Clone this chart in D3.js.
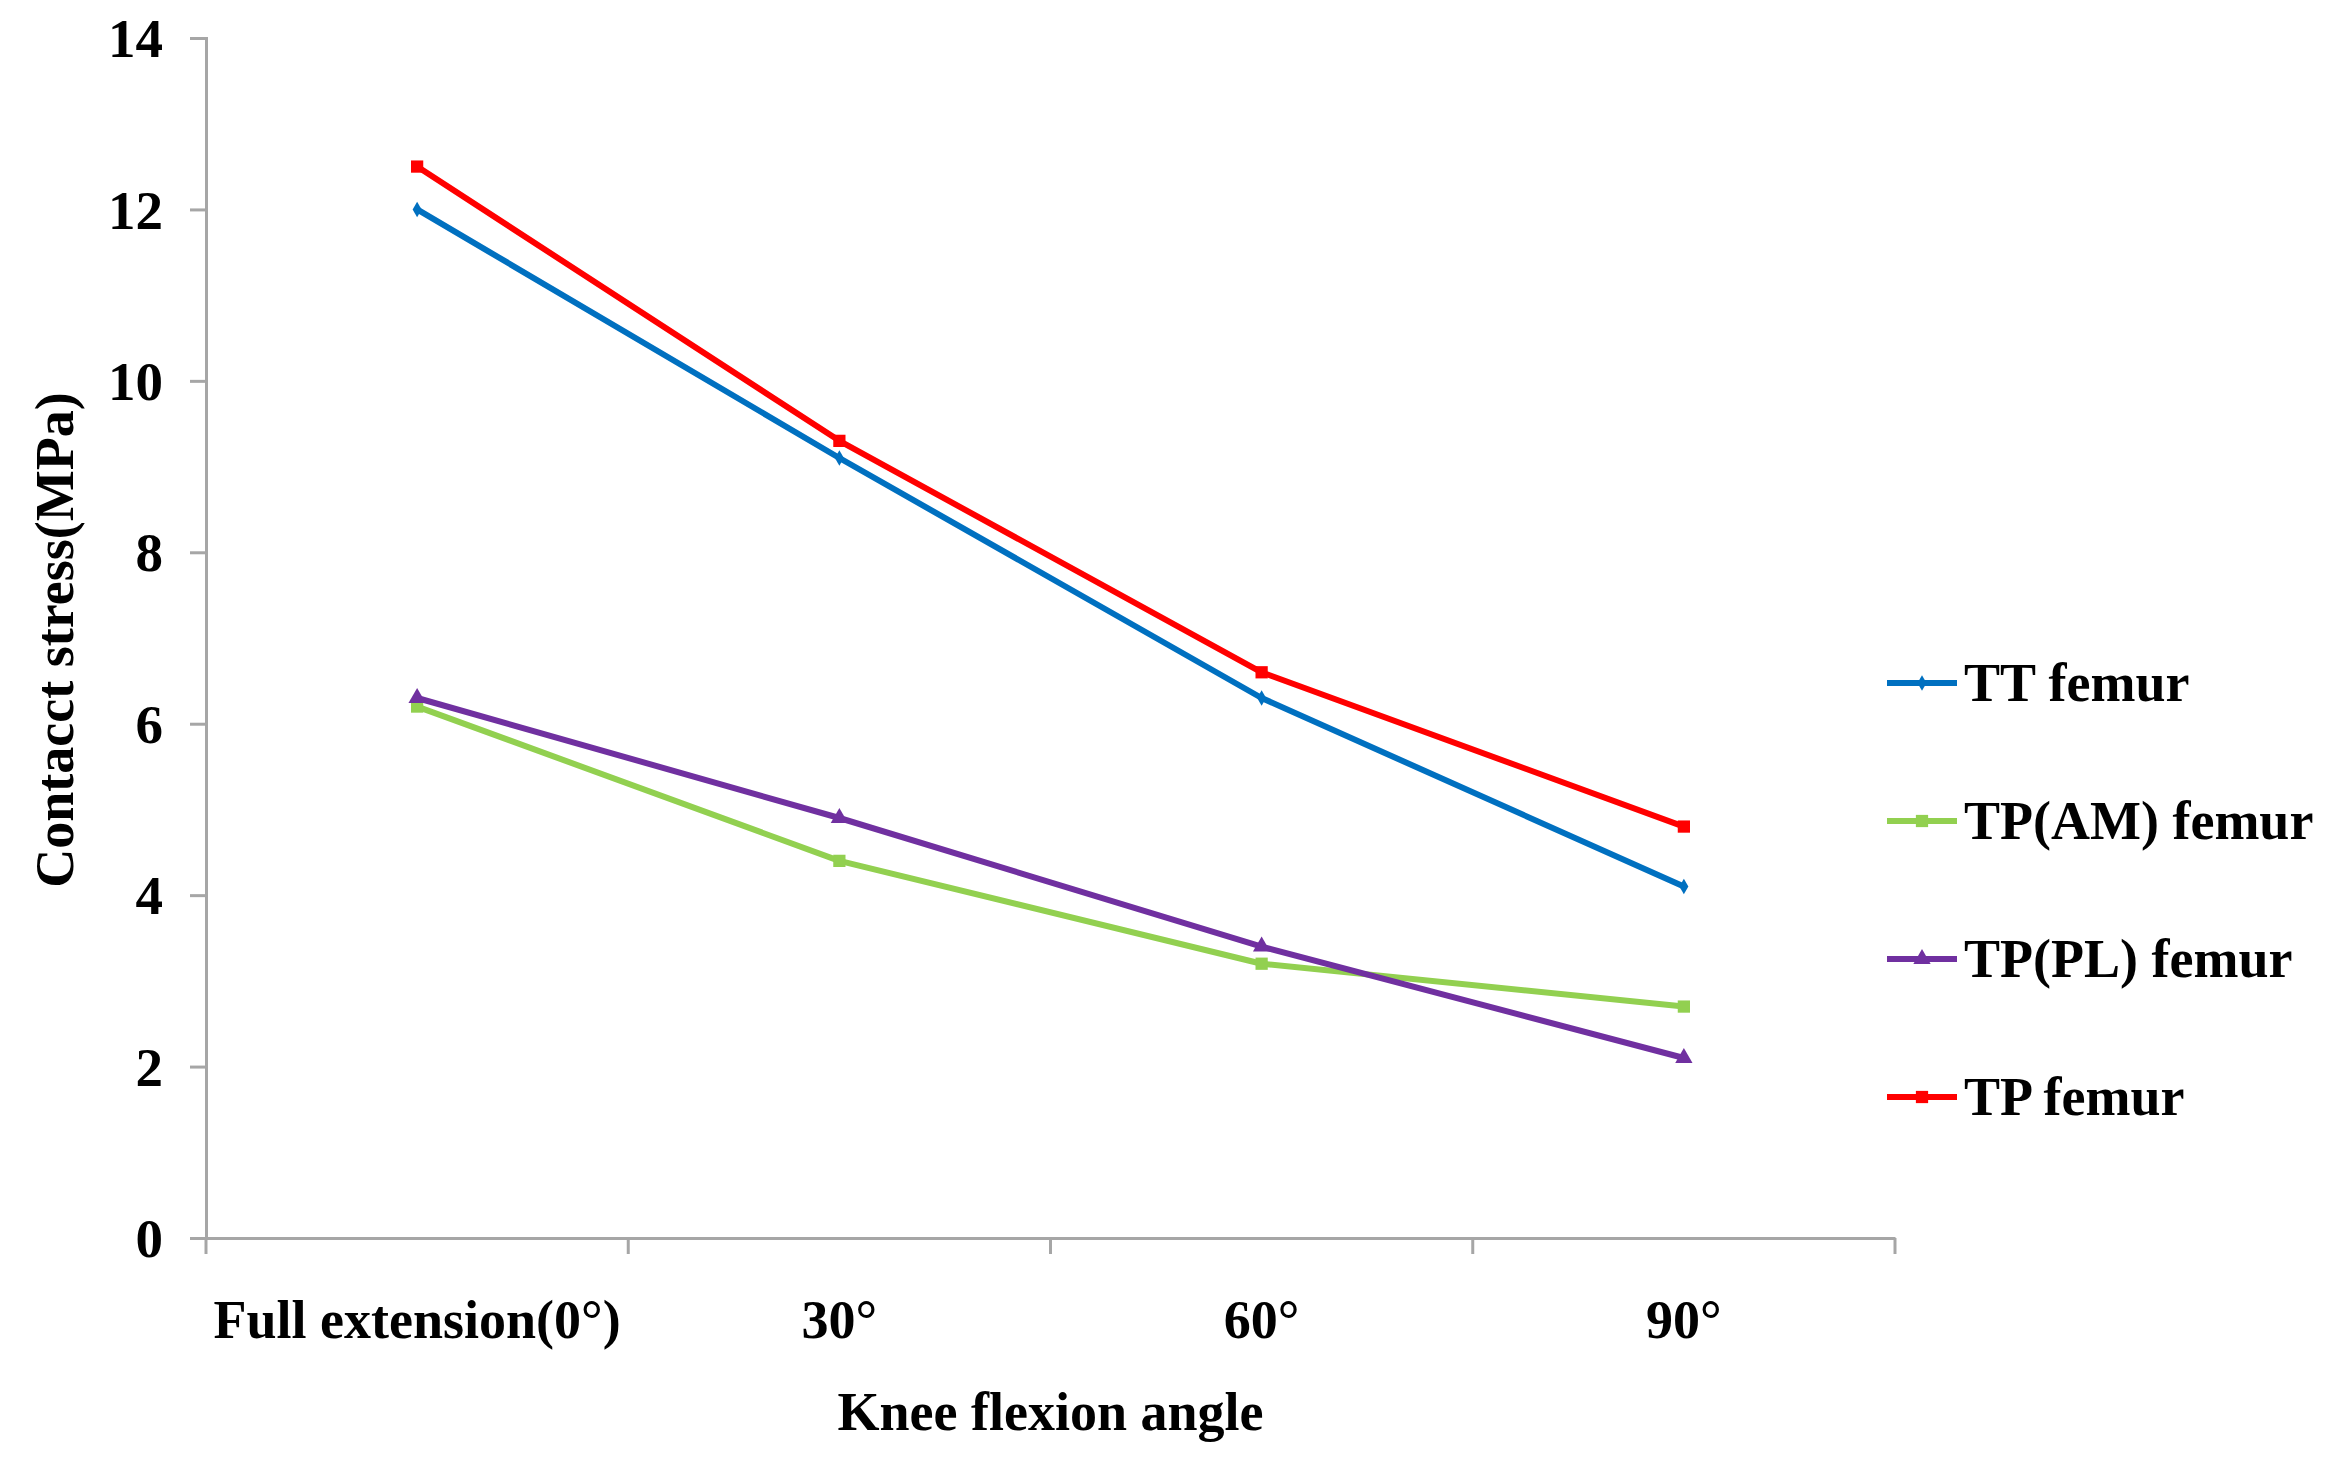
<!DOCTYPE html>
<html>
<head>
<meta charset="utf-8">
<script src="https://cdn.jsdelivr.net/npm/d3@7"></script>
<style>
  html, body { margin: 0; padding: 0; background: #fff; }
  svg text { font-family: "Liberation Serif", "Times New Roman", serif; font-weight: bold; fill: #000; }
</style>
</head>
<body>
<svg id="chart" width="2331" height="1470"></svg>
<script>
// chart data
const categories = ["Full extension(0°)", "30°", "60°", "90°"];
const seriesNames = ["TT femur", "TP(AM) femur", "TP(PL) femur", "TP femur"];
const ttFemur = [12.0, 9.1, 6.3, 4.1];
const tpAmFemur = [6.2, 4.4, 3.2, 2.7];
const tpPlFemur = [6.3, 4.9, 3.4, 2.1];
const tpFemur = [12.5, 9.3, 6.6, 4.8];
const yTicks = [0, 2, 4, 6, 8, 10, 12, 14];

const colors = ["#0070C0", "#92D050", "#7030A0", "#FF0000"];
const markers = [d3.symbolDiamond, d3.symbolSquare, d3.symbolTriangle, d3.symbolSquare];
const markerSize = [70, 150, 130, 150];
const allSeries = [ttFemur, tpAmFemur, tpPlFemur, tpFemur];

const svg = d3.select("#chart");
const margin = { left: 206, right: 436, top: 38, bottom: 232 };
const W = 2331, H = 1470;
const fontSize = "54px";

const x = d3.scaleBand()
  .domain(categories)
  .range([margin.left, W - margin.right])
  .padding(0);

const y = d3.scaleLinear()
  .domain([0, 14])
  .range([H - margin.bottom, margin.top]);

const axisColor = "#A6A6A6";

// y axis
const yAxis = svg.append("g")
  .attr("transform", `translate(${margin.left},0)`)
  .call(d3.axisLeft(y).tickValues(yTicks).tickSize(16).tickPadding(27).tickFormat(d3.format("d")));
yAxis.select(".domain").attr("stroke", axisColor).attr("stroke-width", 3);
yAxis.selectAll(".tick line").attr("stroke", axisColor).attr("stroke-width", 3);
yAxis.selectAll(".tick text")
  .style("font-size", "55px")
  .attr("dy", "0.34em");

// x axis: line plus ticks at band edges
const xAxis = svg.append("g")
  .attr("transform", `translate(0,${y(0)})`)
  .call(d3.axisBottom(x).tickSize(0).tickPadding(62));
xAxis.select(".domain").attr("stroke", axisColor).attr("stroke-width", 3);
xAxis.selectAll(".tick text").style("font-size", fontSize);

const edges = categories.map(c => x(c)).concat([x.range()[1]]);
xAxis.selectAll(".edge")
  .data(edges)
  .enter().append("line")
  .attr("x1", d => d).attr("x2", d => d)
  .attr("y1", 0).attr("y2", 16)
  .attr("stroke", axisColor)
  .attr("stroke-width", 3);

// axis titles
svg.append("text")
  .attr("x", x.range()[0] + (x.range()[1] - x.range()[0]) / 2)
  .attr("y", 1430)
  .attr("text-anchor", "middle")
  .style("font-size", fontSize)
  .text("Knee flexion angle");

svg.append("text")
  .attr("transform", `translate(73,${y(7) + 2}) rotate(-90)`)
  .attr("text-anchor", "middle")
  .style("font-size", fontSize)
  .text("Contacct stress(MPa)");

// lines
const cx = c => x(c) + x.bandwidth() / 2;
const line = d3.line()
  .x((d, i) => cx(categories[i]))
  .y(d => y(d));

allSeries.forEach((vals, s) => {
  svg.append("path")
    .datum(vals)
    .attr("fill", "none")
    .attr("stroke", colors[s])
    .attr("stroke-width", 6)
    .attr("stroke-linejoin", "round")
    .attr("d", line);

  svg.selectAll(".m" + s)
    .data(vals)
    .enter().append("path")
    .attr("d", d3.symbol().type(markers[s]).size(markerSize[s]))
    .attr("transform", (d, i) => `translate(${cx(categories[i])},${y(d)})`)
    .attr("fill", colors[s]);
});

// legend
const legend = svg.append("g").attr("transform", "translate(1887,683)");
seriesNames.forEach((name, s) => {
  const g = legend.append("g").attr("transform", `translate(0,${s * 138})`);
  g.append("line")
    .attr("x1", 0).attr("x2", 70)
    .attr("y1", 0).attr("y2", 0)
    .attr("stroke", colors[s])
    .attr("stroke-width", 6);
  g.append("path")
    .attr("d", d3.symbol().type(markers[s]).size(markerSize[s]))
    .attr("transform", "translate(35,0)")
    .attr("fill", colors[s]);
  g.append("text")
    .attr("x", 77)
    .attr("y", 0)
    .attr("dy", "0.34em")
    .style("font-size", fontSize)
    .text(name);
});
</script>
</body>
</html>
